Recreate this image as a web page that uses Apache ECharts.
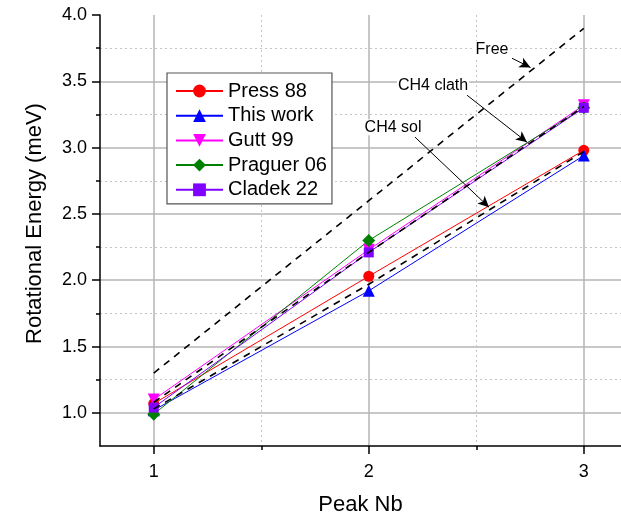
<!DOCTYPE html>
<html>
<head>
<meta charset="utf-8">
<script src="https://cdn.jsdelivr.net/npm/echarts@6/dist/echarts.min.js"></script>
<style>
html,body{margin:0;padding:0;background:#fff;}
#chart{width:621px;height:517px;}
</style>
</head>
<body>
<div id="chart"></div>
<script>
// ---- data ----
const peaks = [1, 2, 3];
const press88   = [1.07, 2.03, 2.98];
const thisWork  = [1.02, 1.92, 2.94];
const gutt99    = [1.10, 2.23, 3.32];
const praguer06 = [0.99, 2.30, 3.30];
const cladek22  = [1.04, 2.21, 3.30];
const freeRotor = [1.30, 2.60, 3.90];
const ch4Clath  = [1.08, 2.21, 3.31];
const ch4Sol    = [1.03, 1.97, 2.97];

const yLabels = [1.0, 1.5, 2.0, 2.5, 3.0, 3.5, 4.0];
const yGrid   = [1.0, 1.5, 2.0, 2.5, 3.0, 3.5];
const yMinor  = [1.25, 1.75, 2.25, 2.75, 3.25, 3.75];
const xMajor  = [1, 2, 3];
const xMinor  = [1.5, 2.5];

// annotations: text, text position, arrow start, arrow end (data units)
const notes = [
  {text: 'Free',      at: [2.573, 3.742], from: [2.666, 3.674], to: [2.752, 3.604]},
  {text: 'CH4 clath', at: [2.299, 3.470], from: [2.457, 3.395], to: [2.736, 3.041]},
  {text: 'CH4 sol',   at: [2.113, 3.154], from: [2.215, 3.079], to: [2.559, 2.551]}
];

const pair = (ys) => peaks.map((p, i) => [p, ys[i]]);
const FONT = 'Liberation Sans, Arial, sans-serif';

function dataSeries(name, ys, color, symbol, size, rotate) {
  return {
    name: name, type: 'line', data: pair(ys),
    symbol: symbol, symbolSize: size, symbolRotate: rotate || 0,
    lineStyle: {color: color, width: 1},
    itemStyle: {color: color},
    z: 3, animation: false
  };
}
function dashSeries(name, ys) {
  return {
    name: name, type: 'line', data: pair(ys), symbol: 'none',
    lineStyle: {color: '#000', width: 1.6, type: [7, 6]},
    z: 5, animation: false, silent: true
  };
}

const gridSolid = {show: true, showMinLine: true, showMaxLine: true, lineStyle: {color: '#b4b4b4', width: 1.5}};
const gridDot = {show: true, showMinLine: true, showMaxLine: true, lineStyle: {color: '#c4c4c4', width: 1, type: [2, 3]}};
const tickStyle = {color: '#000', width: 1.5};

const X_MIN = 0.75, X_MAX = 3.173, Y_MIN = 0.75, Y_MAX = 4;

const chart = echarts.init(document.getElementById('chart'), null, {renderer: 'canvas', width: 621, height: 517});
const option = {
  backgroundColor: '#fff',
  animation: false,
  grid: {left: 100, top: 15, width: 521, height: 431, containLabel: false, outerBoundsMode: 'none'},
  xAxis: [{
    type: 'value', min: X_MIN, max: X_MAX, position: 'bottom',
    name: 'Peak Nb', nameLocation: 'middle', nameGap: 48,
    nameTextStyle: {fontFamily: FONT, fontSize: 22, color: '#000'},
    axisLine: {show: true, onZero: false, lineStyle: {color: '#000', width: 1.5}},
    axisTick: {show: true, customValues: xMajor, length: 8, lineStyle: tickStyle},
    axisLabel: {show: true, customValues: xMajor, margin: 17, fontFamily: FONT, fontSize: 18, color: '#000',
      formatter: v => String(v)},
    splitLine: gridSolid
  }, {
    type: 'value', min: X_MIN, max: X_MAX, position: 'bottom',
    axisLine: {show: false},
    axisTick: {show: true, customValues: xMinor, length: 4, lineStyle: tickStyle},
    axisLabel: {show: false},
    splitLine: gridDot
  }],
  yAxis: [{
    type: 'value', min: Y_MIN, max: Y_MAX, position: 'left',
    name: 'Rotational Energy (meV)', nameLocation: 'middle', nameGap: 54,
    nameTextStyle: {fontFamily: FONT, fontSize: 22, color: '#000', padding: [0, 0, 0, 14]},
    axisLine: {show: true, onZero: false, lineStyle: {color: '#000', width: 1.5}},
    axisTick: {show: true, customValues: yLabels, length: 8, lineStyle: tickStyle},
    axisLabel: {show: true, customValues: yLabels, margin: 13, fontFamily: FONT, fontSize: 18, color: '#000',
      formatter: v => v.toFixed(1)},
    splitLine: {show: false}
  }, {
    type: 'value', min: Y_MIN, max: Y_MAX, position: 'left',
    axisLine: {show: false},
    axisTick: {show: true, customValues: yMinor, length: 4, lineStyle: tickStyle},
    axisLabel: {show: false},
    splitLine: gridDot
  }, {
    type: 'value', min: Y_MIN, max: Y_MAX, position: 'left',
    axisLine: {show: false},
    axisTick: {show: false, customValues: yGrid},
    axisLabel: {show: false},
    splitLine: gridSolid
  }],
  legend: {
    show: true, orient: 'vertical', left: 167, top: 73,
    data: ['Press 88', 'This work', 'Gutt 99', 'Praguer 06', 'Cladek 22'],
    itemWidth: 47, itemHeight: 16, itemGap: 4.7,
    padding: [8, 5, 4, 8],
    borderColor: '#555', borderWidth: 1.2, backgroundColor: '#fff',
    textStyle: {fontFamily: FONT, fontSize: 20, color: '#000'}
  },
  series: [
    dataSeries('Press 88', press88, '#ff0000', 'circle', 11),
    dataSeries('This work', thisWork, '#0000ff', 'triangle', 12),
    dataSeries('Gutt 99', gutt99, '#ff00ff', 'triangle', 12, 180),
    dataSeries('Praguer 06', praguer06, '#008000', 'diamond', 13),
    dataSeries('Cladek 22', cladek22, '#8000ff', 'rect', 10),
    dashSeries('free', freeRotor),
    dashSeries('clath', ch4Clath),
    dashSeries('sol', ch4Sol),
    {
      name: 'notes', type: 'line', data: [], symbol: 'none', silent: true, z: 6,
      markLine: {
        silent: true, animation: false,
        symbol: ['none', 'arrow'], symbolSize: [8, 11],
        lineStyle: {color: '#000', width: 1, type: 'solid'},
        label: {show: false},
        data: notes.map(n => [{coord: n.from}, {coord: n.to}])
      },
      markPoint: {
        silent: true, animation: false,
        symbol: 'rect', symbolSize: 1, itemStyle: {color: 'rgba(0,0,0,0)'},
        label: {show: true, position: 'inside', fontFamily: FONT, fontSize: 16, color: '#000',
          backgroundColor: '#fff', padding: [0, 1]},
        data: notes.map(n => ({coord: n.at, value: n.text, label: {formatter: n.text}}))
      }
    }
  ]
};
chart.setOption(option);
</script>
</body>
</html>
